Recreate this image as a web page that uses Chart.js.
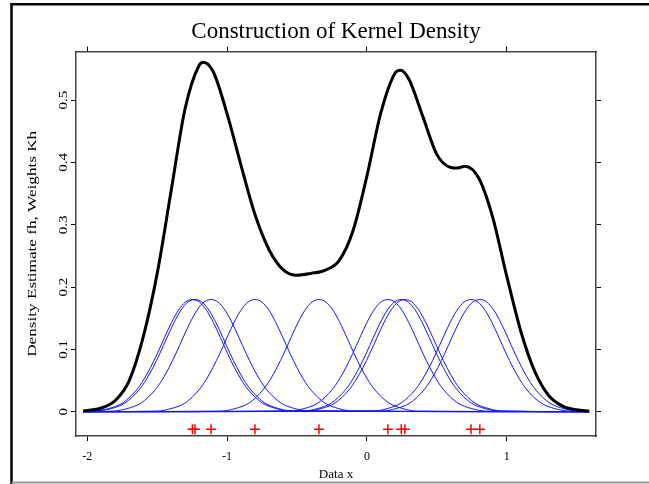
<!DOCTYPE html>
<html>
<head>
<meta charset="utf-8">
<script src="https://cdn.jsdelivr.net/npm/chart.js@4"></script>
<style>
  html, body { margin: 0; padding: 0; background: #fff; }
</style>
</head>
<body>
<canvas id="kdeChart" width="649" height="484"></canvas>
<script>
// tick positions / labels
const xTicks = [-2, -1, 0, 1];
const yTicks = [0, 0.1, 0.2, 0.3, 0.4, 0.5];
const yTickLabels = ['0', '0.1', '0.2', '0.3', '0.4', '0.5'];
const yTitle = 'Density Estimate fh, Weights Kh';

// observed data (red crosses)
const dataPoints = [-1.248, -1.230, -1.115, -0.801, -0.343, 0.150, 0.246, 0.272, 0.745, 0.808];
const markY = -0.028;

// density estimate fh (black curve)
const densityX = [-2.03, -1.9, -1.8, -1.7, -1.6, -1.5, -1.4, -1.3, -1.2, -1.17, -1.1, -1.0, -0.9, -0.8, -0.7, -0.6,
  -0.5, -0.4, -0.3, -0.2, -0.1, 0.0, 0.1, 0.2, 0.24, 0.3, 0.4, 0.5, 0.6, 0.65, 0.7, 0.8, 0.9, 1.0, 1.1, 1.2,
  1.3, 1.4, 1.5, 1.59];
const densityY = [0.001, 0.006, 0.018, 0.05, 0.12, 0.222, 0.355, 0.487, 0.556, 0.561, 0.546, 0.478, 0.395, 0.316, 0.26, 0.228,
  0.219, 0.222, 0.227, 0.242, 0.29, 0.378, 0.48, 0.543, 0.548, 0.534, 0.474, 0.413, 0.392, 0.391, 0.394, 0.375, 0.312, 0.218, 0.13, 0.065,
  0.026, 0.009, 0.003, 0.001];

// one kernel weight Kh (blue bumps), offsets from its data point
const kernelOffsets = [-0.7, -0.6, -0.5, -0.4, -0.35, -0.3, -0.25, -0.2, -0.15, -0.1, -0.05, 0,
  0.05, 0.1, 0.15, 0.2, 0.25, 0.3, 0.35, 0.4, 0.5, 0.6, 0.7];
const kernelHeights = [0.001, 0.005, 0.014, 0.035, 0.051, 0.071, 0.094, 0.119, 0.143, 0.163, 0.176, 0.18,
  0.176, 0.163, 0.143, 0.119, 0.094, 0.071, 0.051, 0.035, 0.014, 0.005, 0.001];
const curveStart = -2.03;
const curveEnd = 1.59;

const serif = 'Liberation Serif';

const datasets = [];

datasets.push({
  label: 'fh',
  data: densityX.map((x, i) => ({ x: x, y: densityY[i] })),
  showLine: true,
  borderColor: '#000',
  borderWidth: 3,
  pointRadius: 0,
  cubicInterpolationMode: 'monotone'
});

dataPoints.forEach(c => {
  const pts = [{ x: curveStart, y: 0 }];
  kernelOffsets.forEach((o, k) => pts.push({ x: c + o, y: kernelHeights[k] }));
  pts.push({ x: curveEnd, y: 0 });
  datasets.push({
    label: 'Kh',
    data: pts,
    showLine: true,
    borderColor: 'rgb(20,20,255)',
    borderWidth: 1,
    pointRadius: 0,
    cubicInterpolationMode: 'monotone'
  });
});

datasets.push({
  label: 'data',
  data: dataPoints.map(x => ({ x: x, y: markY })),
  showLine: false,
  pointStyle: 'cross',
  pointRadius: 5,
  borderColor: 'rgb(255,0,0)',
  borderWidth: 1.5
});

// outer frame of the figure
const framePlugin = {
  id: 'frame',
  beforeDraw(chart) {
    const c = chart.ctx;
    c.save();
    c.fillStyle = '#fff';
    c.fillRect(0, 0, chart.width, chart.height);
    c.strokeStyle = '#000';
    c.lineWidth = 2.5;
    c.beginPath();
    c.moveTo(11.5, 484);
    c.lineTo(11.5, 4.2);
    c.lineTo(649, 4.2);
    c.stroke();
    c.strokeStyle = '#999';
    c.lineWidth = 2;
    c.beginPath();
    c.moveTo(11.5, 482.5);
    c.lineTo(649, 482.5);
    c.stroke();
    c.restore();
  }
};

// y tick labels and y title, written parallel to the axis (a bit stretched, like the original)
const yLabelPlugin = {
  id: 'yLabels',
  afterDraw(chart) {
    const c = chart.ctx;
    const ys = chart.scales.y;
    const area = chart.chartArea;
    c.save();
    c.fillStyle = '#000';
    c.textAlign = 'center';
    c.textBaseline = 'middle';
    c.font = '12px "' + serif + '"';
    yTicks.forEach((v, i) => {
      c.save();
      c.translate(64, ys.getPixelForValue(v));
      c.rotate(-Math.PI / 2);
      c.scale(1.25, 1);
      c.fillText(yTickLabels[i], 0, 0);
      c.restore();
    });
    c.font = '13px "' + serif + '"';
    c.translate(33, (area.top + area.bottom) / 2);
    c.rotate(-Math.PI / 2);
    c.scale(1.32, 1);
    c.fillText(yTitle, 0, 0);
    c.restore();
  }
};

const axisGrid = { drawOnChartArea: false, drawTicks: true, tickLength: 5, color: '#000', lineWidth: 1 };
const axisBorder = { display: true, color: '#444', width: 1.5 };
const xRange = { min: -2.081, max: 1.639 };
const yRange = { min: -0.039, max: 0.578 };

new Chart(document.getElementById('kdeChart').getContext('2d'), {
  type: 'scatter',
  data: { datasets: datasets },
  options: {
    responsive: false,
    animation: false,
    layout: { padding: 0 },
    plugins: {
      legend: { display: false },
      tooltip: { enabled: false },
      title: {
        display: true,
        fullSize: false,
        text: 'Construction of Kernel Density',
        color: '#000',
        font: { family: serif, size: 23, weight: 'normal' },
        padding: { top: 18, bottom: 1 }
      }
    },
    scales: {
      x: {
        type: 'linear', position: 'bottom', ...xRange,
        afterBuildTicks: s => { s.ticks = xTicks.map(v => ({ value: v })); },
        afterFit: s => { s.height = 48; },
        grid: axisGrid, border: axisBorder,
        ticks: { color: '#000', font: { family: serif, size: 12 }, padding: 9, callback: v => String(v) },
        title: { display: true, text: 'Data x', color: '#000', font: { family: serif, size: 13 }, padding: { top: 0, bottom: 2 } }
      },
      x2: {
        type: 'linear', position: 'top', ...xRange,
        afterBuildTicks: s => { s.ticks = xTicks.map(v => ({ value: v })); },
        afterFit: s => { s.height = 5; },
        grid: axisGrid, border: axisBorder,
        ticks: { display: false }
      },
      y: {
        type: 'linear', position: 'left', ...yRange,
        afterBuildTicks: s => { s.ticks = yTicks.map(v => ({ value: v })); },
        afterFit: s => { s.width = 76; },
        grid: axisGrid, border: axisBorder,
        ticks: { display: false }
      },
      y2: {
        type: 'linear', position: 'right', ...yRange,
        afterBuildTicks: s => { s.ticks = yTicks.map(v => ({ value: v })); },
        afterFit: s => { s.width = 53; },
        grid: axisGrid, border: axisBorder,
        ticks: { display: false }
      }
    }
  },
  plugins: [framePlugin, yLabelPlugin]
});
</script>
</body>
</html>
